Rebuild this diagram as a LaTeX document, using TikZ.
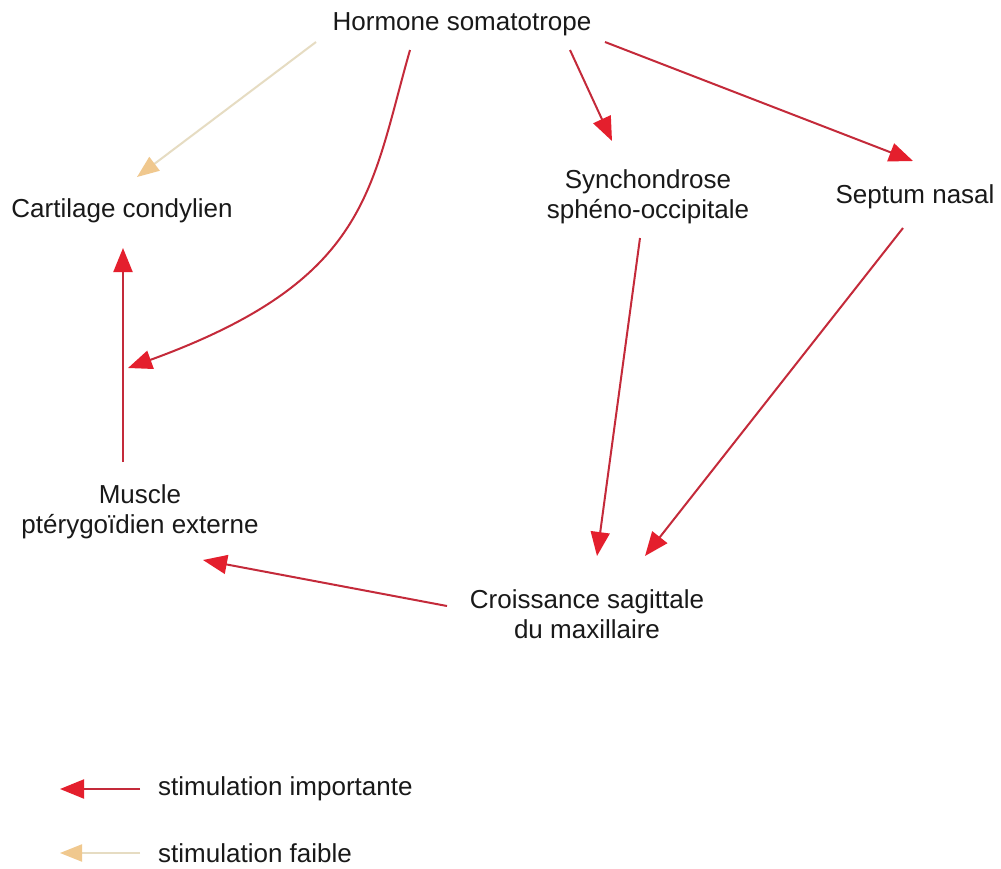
\documentclass[tikz,border=0pt]{standalone}
\usepackage{fontspec}
\setmainfont{Liberation Sans}
\usetikzlibrary{arrows.meta}
\definecolor{redline}{HTML}{C42A3A}
\definecolor{redhead}{HTML}{E41F2D}
\definecolor{faintline}{HTML}{E6DCC2}
\definecolor{fainthead}{HTML}{F0C88E}
\tikzset{
  lbl/.style={inner sep=0pt, align=center, font=\fontsize{26}{30}\selectfont, text=black!90},
  strong/.style={draw=redline, line width=2pt, -{Triangle[length=24pt,width=19pt,color=redhead]}},
  weak/.style={draw=faintline, line width=2pt, -{Triangle[length=22pt,width=17pt,color=fainthead]}},
}
\begin{document}
\begin{tikzpicture}[x=1pt,y=-1pt]
\useasboundingbox[fill=white] (0,0) rectangle (1001,868);
\node[lbl] (h)  at (462,24)  {Hormone somatotrope};
\node[lbl] (cc) at (122,211) {Cartilage condylien};
\node[lbl] (sy) at (648,197) {Synchondrose\\sphéno-occipitale};
\node[lbl] (sn) at (915,197) {Septum nasal};
\node[lbl] (mu) at (140,512) {Muscle\\ptérygoïdien externe};
\node[lbl] (cr) at (587,614) {Croissance sagittale\\du maxillaire};
\node[lbl, anchor=west] (l1) at (158,789) {stimulation importante};
\node[lbl, anchor=west] (l2) at (158,853) {stimulation faible};
\coordinate (l1a) at (140,789);
\coordinate (l1b) at (60,789);
\coordinate (l2a) at (140,853);
\coordinate (l2b) at (60,853);
% connectors
\draw[weak] ([shift={(-146,18)}]h.center) -- ([shift={(15,-34)}]cc.center);
\draw[strong] ([shift={(-52,26)}]h.center) .. controls ([shift={(-92,166)}]h.center) and ([shift={(-92,256)}]h.center) .. ([shift={(6,157)}]cc.center);
\draw[strong] ([shift={(108,26)}]h.center) -- ([shift={(-36,-56)}]sy.center);
\draw[strong] ([shift={(143,18)}]h.center) -- ([shift={(-2,-36)}]sn.center);
\draw[strong] ([shift={(-17,-50)}]mu.center) -- ([shift={(1,37)}]cc.center);
\draw[strong] ([shift={(-8,41)}]sy.center) -- ([shift={(10,-58)}]cr.center);
\draw[strong] ([shift={(-12,31)}]sn.center) -- ([shift={(58,-58)}]cr.center);
\draw[strong] ([shift={(-140,-8)}]cr.center) -- ([shift={(63,48)}]mu.center);
\draw[strong] (l1a) -- (l1b);
\draw[weak] (l2a) -- (l2b);
\end{tikzpicture}
\end{document}
